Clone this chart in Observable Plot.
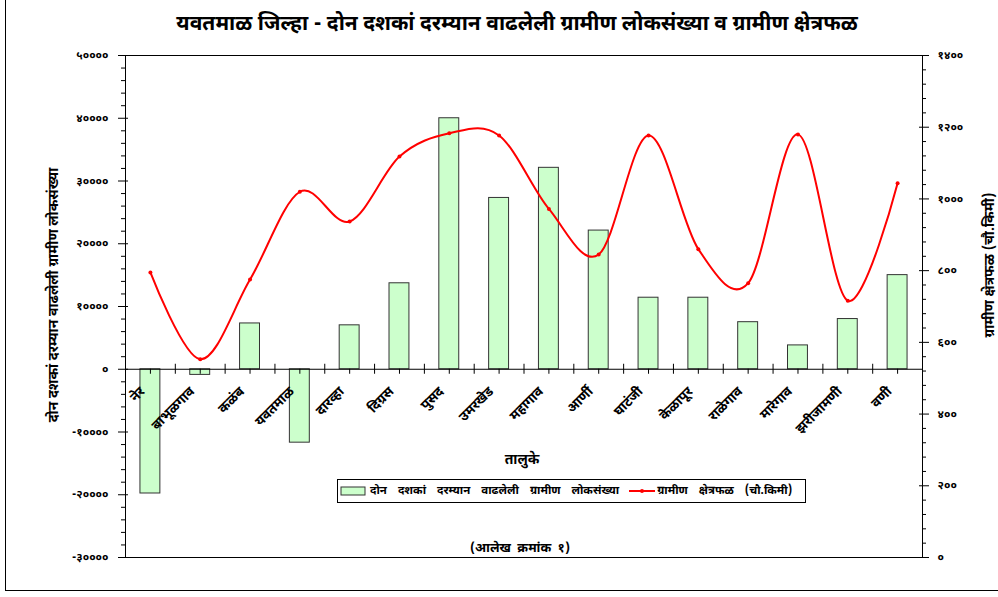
<!DOCTYPE html>
<html>
<head>
<meta charset="utf-8">
<script src="https://cdn.jsdelivr.net/npm/d3@7"></script>
<script src="https://cdn.jsdelivr.net/npm/@observablehq/plot@0.6"></script>
<style>
  html, body { margin:0; padding:0; width:998px; height:597px; overflow:hidden; background:#fff; }
  body { position:relative; font-family: "Noto Sans Devanagari", "Lohit Devanagari", "Noto Sans", "DejaVu Sans", sans-serif; font-weight:bold; }
  #border { position:absolute; left:5px; top:-2px; width:1000px; height:593px; border:1px solid #000; box-sizing:border-box; }
  #chart { position:absolute; left:0; top:0; }
  .abs { position:absolute; white-space:nowrap; color:#000; }
  #title { left:0; width:1034px; top:11px; text-align:center; font-size:21px; }
  #ylabL { left:54px; top:295px; transform:translate(-50%,-50%) rotate(-90deg); font-size:14px; }
  #ylabR { left:990px; top:265px; transform:translate(-50%,-50%) rotate(-90deg); font-size:14px; }
  #xlab { left:522px; top:460px; transform:translate(-50%,-50%); font-size:14px; }
  #legend { left:337px; top:479px; width:469px; height:24px; border:1px solid #000; box-sizing:border-box; display:flex; align-items:center; font-size:11.5px; word-spacing:8px; }
  #caption { left:520px; top:548px; transform:translate(-50%,-50%); font-size:13px; word-spacing:3px; }
</style>
</head>
<body>
<div id="border"></div>
<div id="chart"></div>
<div id="title" class="abs"></div>
<div id="ylabL" class="abs"></div>
<div id="ylabR" class="abs"></div>
<div id="xlab" class="abs"></div>
<div id="legend" class="abs"></div>
<div id="caption" class="abs"></div>
<script>
const titleText = "यवतमाळ जिल्हा - दोन दशकां दरम्यान वाढलेली ग्रामीण लोकसंख्या  व ग्रामीण क्षेत्रफळ";
const leftAxisTitle = "दोन दशकां दरम्यान वाढलेली ग्रामीण लोकसंख्या";
const rightAxisTitle = "ग्रामीण क्षेत्रफळ (चौ.किमी)";
const xAxisTitle = "तालुके";
const seriesBarName = "दोन दशकां दरम्यान वाढलेली ग्रामीण लोकसंख्या";
const seriesLineName = "ग्रामीण क्षेत्रफळ (चौ.किमी)";
const captionText = "(आलेख क्रमांक १)";

const talukas = ["नेर","बाभूळगाव","कळंब","यवतमाळ","दारव्हा","दिग्रस","पुसद","उमरखेड","महागाव","आर्णी","घाटंजी","केळापूर","राळेगाव","मारेगाव","झरीजामणी","वणी"];
const popIncrease = [-19800, -900, 7300, -11700, 7000, 13700, 40000, 27300, 32100, 22100, 11400, 11400, 7500, 3800, 8000, 15000];
const ruralArea = [795, 553, 775, 1020, 937, 1118, 1183, 1177, 972, 845, 1177, 860, 765, 1180, 716, 1044];

const leftTicks = [-30000, -20000, -10000, 0, 10000, 20000, 30000, 40000, 50000];
const rightTicks = [0, 200, 400, 600, 800, 1000, 1200, 1400];
const leftMinorStep = 2000;
const rightMinorStep = 40;

const yMin = -30000, yMax = 50000, rMax = 1400;
const toY = v => yMin + v * (yMax - yMin) / rMax;
const fromY = y => (y - yMin) * rMax / (yMax - yMin);
const devDigits = "०१२३४५६७८९";
const dev = n => String(n).replace(/[0-9]/g, c => devDigits[+c]);

const data = talukas.map((t, i) => ({taluka: t, pop: popIncrease[i], area: ruralArea[i]}));

const W = 998, H = 597, mL = 125, mR = 76, mT = 55, mB = 40;
const plotW = W - mL - mR, plotH = H - mT - mB;
const step = plotW / talukas.length;
const pxToY = px => px * (yMax - yMin) / plotH;

const leftMinor = d3.range(yMin, yMax + 1, leftMinorStep).filter(v => !leftTicks.includes(v));
const rightMinor = d3.range(0, rMax + 1, rightMinorStep).filter(v => v % 200 !== 0).map(toY);

const font = "'Noto Sans Devanagari', 'Lohit Devanagari', 'Noto Sans', sans-serif";

const chart = Plot.plot({
  width: W, height: H,
  marginLeft: mL, marginRight: mR, marginTop: mT, marginBottom: mB,
  style: {fontFamily: font, fontWeight: "bold", background: "transparent"},
  x: {domain: talukas, paddingInner: 0.6, paddingOuter: 0.3, round: false, axis: null, label: null},
  y: {domain: [yMin, yMax], axis: null, label: null},
  marks: [
    Plot.barY(data, {x: "taluka", y: "pop", fill: "#ccffcc", stroke: "#333", strokeWidth: 1}),
    Plot.ruleY([0], {stroke: "#000", strokeWidth: 1}),
    Plot.frame({stroke: "#000", strokeWidth: 1}),
    Plot.ruleX(talukas.slice(1), {x: d => d, y1: -pxToY(5), y2: pxToY(5), dx: -step / 2, stroke: "#000"}),
    Plot.ruleX(talukas, {x: d => d, y1: 0, y2: -pxToY(5), stroke: "#000"}),
    Plot.tickY(leftTicks, {y: d => d, insetLeft: -7, insetRight: plotW - 3, stroke: "#000"}),
    Plot.tickY(leftMinor, {y: d => d, insetLeft: -4, insetRight: plotW, stroke: "#000"}),
    Plot.axisY(leftTicks, {anchor: "left", label: null, tickSize: 0, tickPadding: 17, tickFormat: dev, fontSize: 11.5, fontWeight: "bold"}),
    Plot.tickY(rightTicks.map(toY), {y: d => d, insetLeft: plotW - 3, insetRight: -7, stroke: "#000"}),
    Plot.tickY(rightMinor, {y: d => d, insetLeft: plotW, insetRight: -4, stroke: "#000"}),
    Plot.axisY(rightTicks.map(toY), {anchor: "right", label: null, tickSize: 0, tickPadding: 15, tickFormat: d => dev(Math.round(fromY(d))), fontSize: 11.5, fontWeight: "bold"}),
    Plot.text(talukas, {x: d => d, y: 0, text: d => d, rotate: -45, textAnchor: "end", dx: -8, dy: 20, fontSize: 13.5, fontWeight: "bold", fill: "#000"}),
    Plot.line(data, {x: "taluka", y: d => toY(d.area), stroke: "#ff0000", strokeWidth: 2, curve: "cardinal", tension: 0}),
    Plot.dot(data, {x: "taluka", y: d => toY(d.area), r: 2, fill: "#ff0000", stroke: "none"})
  ]
});
document.getElementById("chart").appendChild(chart);

document.getElementById("title").textContent = titleText;
document.getElementById("ylabL").textContent = leftAxisTitle;
document.getElementById("ylabR").textContent = rightAxisTitle;
document.getElementById("xlab").textContent = xAxisTitle;
document.getElementById("caption").textContent = captionText;
document.getElementById("legend").innerHTML =
  `<svg width="28" height="12" style="margin-left:2px;margin-right:2px"><rect x="1" y="2" width="24" height="8" fill="#ccffcc" stroke="#333"/></svg>` +
  `<span>${seriesBarName}</span>` +
  `<svg width="26" height="12" style="margin-left:10px;margin-right:2px"><line x1="0" y1="6" x2="26" y2="6" stroke="#ff0000" stroke-width="2"/><circle cx="13" cy="6" r="2" fill="#ff0000"/></svg>` +
  `<span>${seriesLineName}</span>`;
</script>
</body>
</html>
